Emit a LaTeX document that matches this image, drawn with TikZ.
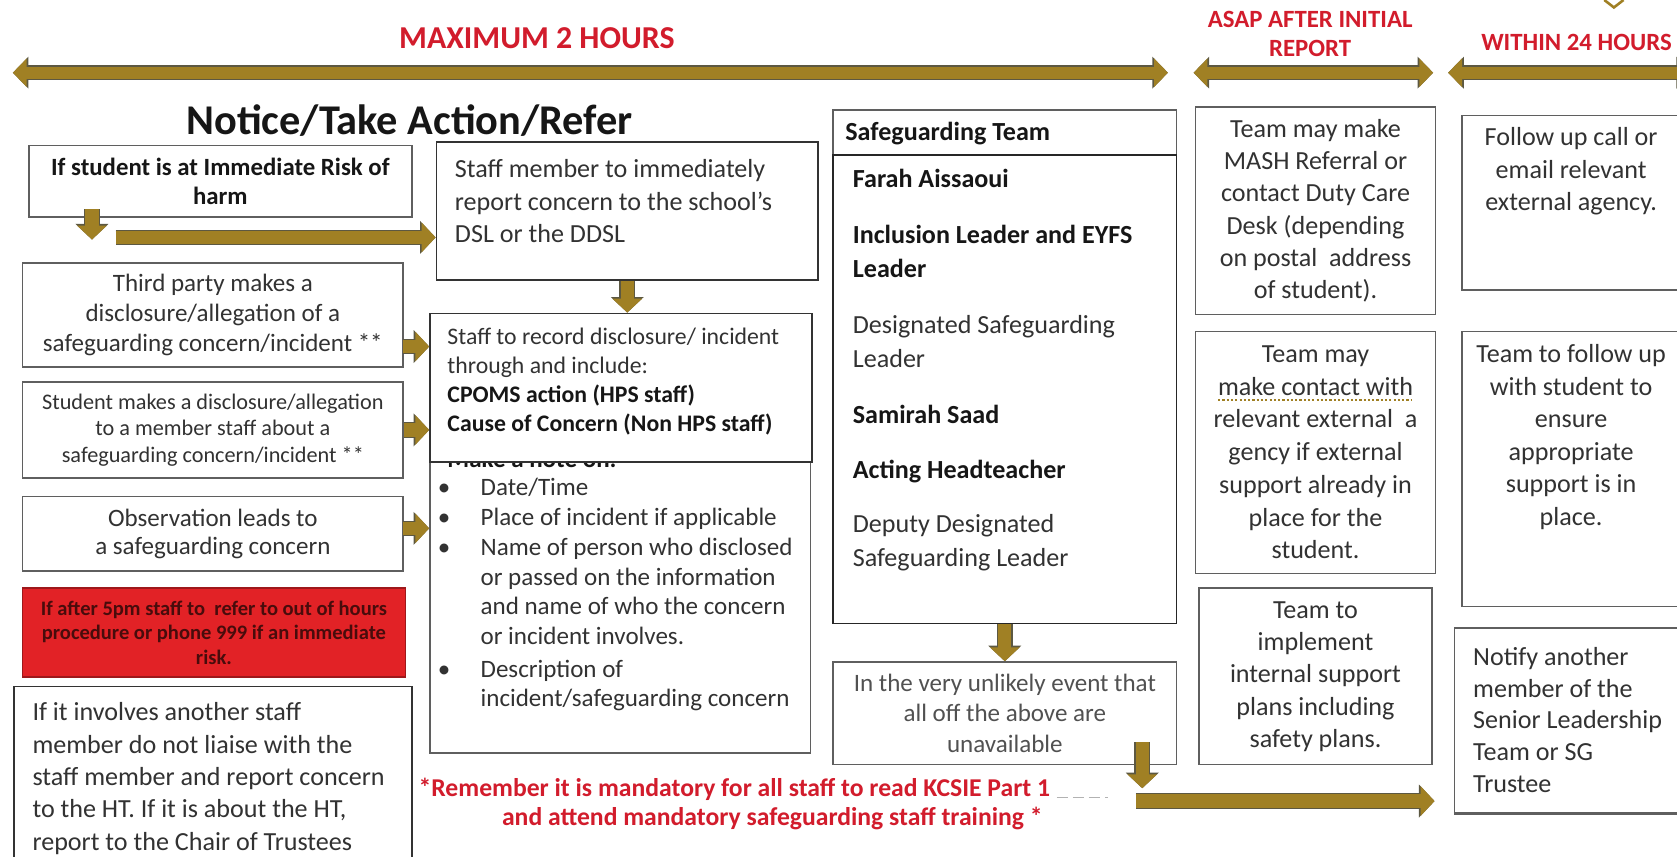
\documentclass[tikz,border=0pt]{standalone}
\usepackage{fontspec}
\setmainfont{Carlito}
\usetikzlibrary{arrows.meta,fit}

\definecolor{arrowgold}{RGB}{160,128,36}
\definecolor{arrowedge}{RGB}{92,88,66}
\definecolor{headred}{RGB}{210,28,44}
\definecolor{alertred}{RGB}{226,34,38}
\definecolor{alerttext}{RGB}{72,12,12}
\definecolor{boxline}{RGB}{95,95,95}
\definecolor{bodytext}{RGB}{50,50,50}
\definecolor{strongtext}{RGB}{22,22,22}

\tikzset{
  frame/.style={draw=boxline, line width=0.7pt, fill=white, inner sep=0pt},
  boxtext/.style={text=bodytext, inner sep=0pt, font=\fontsize{12.2}{15.1}\selectfont},
  heading/.style={text=headred, inner sep=0pt, align=center, font=\bfseries\fontsize{11.6}{13.5}\selectfont},
  fatarrow/.style={draw=arrowgold, line width=6.2pt, -{Triangle[length=6.5pt,width=13.5pt]},
    preaction={draw=arrowedge, line width=7.3pt, -{Triangle[length=7.3pt,width=15pt]}}},
  fatboth/.style={draw=arrowgold, line width=5.8pt, {Triangle[length=6.5pt,width=13pt]}-{Triangle[length=6.5pt,width=13pt]},
    preaction={draw=arrowedge, line width=6.9pt, {Triangle[length=7.3pt,width=14.5pt]}-{Triangle[length=7.3pt,width=14.5pt]}}},
}

\begin{document}
\begin{tikzpicture}[x=0.5pt, y=-0.5pt]
  \useasboundingbox (0,0) rectangle (1568,801);
  \clip (0,0) rectangle (1568,801);
  \fill[white] (0,0) rectangle (1568,801);

  % time bands
  \node[heading, font=\bfseries\fontsize{14.9}{16}\selectfont] (maxhead) at (502,36) {MAXIMUM 2 HOURS};
  \node[heading] (asaphead) at (1225,32) {ASAP AFTER INITIAL\\REPORT};
  \node[heading] (dayhead) at (1474,40) {WITHIN 24 HOURS};
  \coordinate (maxl) at (12,68);    \coordinate (maxr) at (1092,68);
  \coordinate (asapl) at (1116,68); \coordinate (asapr) at (1340,68);
  \coordinate (dayl) at (1354,68);  \coordinate (dayr) at (1582,68);
  \draw[fatboth] (maxl) -- (maxr);
  \draw[fatboth] (asapl) -- (asapr);
  \draw[fatboth] (dayl) -- (dayr);
  \draw[arrowgold, line width=1.2pt] (1500,0) -- (1509,7) -- (1518,0); % cut-off mark

  \node[inner sep=0pt, text=strongtext, font=\bfseries\fontsize{19.8}{22}\selectfont] (title) at (383,113) {Notice/Take Action/Refer};

  % left column
  \node[frame, fit={(27,136) (385,203)}] (riskbox) {};
  \node[inner sep=0pt, align=center, text=strongtext, font=\bfseries\fontsize{11.6}{13.5}\selectfont] (risktext) at (riskbox.center) {If student is at Immediate Risk of\\harm};
  \node[frame, fit={(21,246) (377,343)}] (thirdbox) {};
  \node[boxtext, align=center, font=\fontsize{11.7}{14}\selectfont] (thirdtext) at (thirdbox.center) {Third party makes a\\disclosure/allegation of a\\safeguarding concern/incident **};
  \node[frame, fit={(21,357) (377,447)}] (studentbox) {};
  \node[boxtext, align=center, font=\fontsize{10.4}{12.3}\selectfont] (studenttext) at (studentbox.center) {Student makes a disclosure/allegation\\to a member staff about a\\safeguarding concern/incident **};
  \node[frame, fit={(21,464) (377,534)}] (observebox) {};
  \node[boxtext, align=center, font=\fontsize{11.7}{13}\selectfont] (observetext) at (observebox.center) {Observation leads to\\a safeguarding concern};
  \node[frame, draw=alertred!70!black, fill=alertred, fit={(21,550) (379,633)}] (latebox) {};
  \node[inner sep=0pt, align=center, text=alerttext, font=\bfseries\fontsize{9.6}{11.5}\selectfont] (latetext) at (latebox.center) {If after 5pm staff to\ \ refer to out of hours\\procedure or phone 999 if an immediate\\risk.};
  \node[frame, draw=black!80, fit={(13,642) (385,830)}] (staffcasebox) {};
  \node[boxtext, anchor=west, align=left] (staffcasetext) at (30,728) {If it involves another staff\\member do not liaise with the\\staff member and report concern\\to the HT. If it is about the HT,\\report to the Chair of Trustees};

  % report and record
  \node[frame, draw=black!80, fit={(408,133) (765,262)}] (staffbox) {};
  \node[boxtext, anchor=west, align=left, font=\fontsize{12.2}{15.3}\selectfont] (stafftext) at (425,188) {Staff member to immediately\\report concern to the school’s\\DSL or the DDSL};
  \node[frame, fit={(402,293) (758,704)}] (notebox) {};
  \node[anchor=base west, inner sep=0pt, text=strongtext, font=\bfseries\fontsize{11.7}{14}\selectfont] (notehead) at (418,437) {Make a note on:};
  \node[frame, draw=black!80, fit={(402,293) (759,432)}] (recordbox) {};
  \node[boxtext, anchor=west, align=left, font=\fontsize{11.1}{13.5}\selectfont] (recordtext) at (418,357) {Staff to record disclosure/ incident\\through and include:\\\textcolor{strongtext}{\bfseries CPOMS action (HPS staff)}\\\textcolor{strongtext}{\bfseries Cause of Concern (Non HPS staff)}};
  \node[boxtext, anchor=north west, font=\fontsize{11.7}{14}\selectfont] (notelist) at (409,443) {%
    \begin{tabular}{@{}p{20pt}@{}l@{}}
      \textbullet & Date/Time\\
      \textbullet & Place of incident if applicable\\
      \textbullet & Name of person who disclosed\\
                  & or passed on the information\\
                  & and name of who the concern\\
                  & or incident involves.\\[1pt]
      \textbullet & Description of\\
                  & incident/safeguarding concern
    \end{tabular}};

  \coordinate (riskdown) at (86,224);
  \coordinate (riskgo) at (108,222);
  \coordinate (thirdgo) at (377,324);
  \coordinate (observego) at (377,494);
  \draw[fatarrow] (riskbox.south -| riskdown) ++(0,-8) -- (riskdown);
  \draw[fatarrow] (riskgo) -- (riskgo -| staffbox.west);
  \draw[fatarrow] (thirdgo) -- (thirdgo -| notebox.west);
  \draw[fatarrow] (studentbox.east) -- (studentbox.east -| notebox.west);
  \draw[fatarrow] (observego) -- (observego -| notebox.west);
  \draw[fatarrow] (staffbox.south) -- (staffbox.south |- recordbox.north);

  % safeguarding team
  \node[frame, fit={(779,103) (1100,145)}] (teamhead) {};
  \node[inner sep=0pt, anchor=west, text=strongtext, font=\bfseries\fontsize{12.2}{15}\selectfont] (teamheadtext) at (790,125) {Safeguarding Team};
  \node[frame, draw=black!85, line width=0.9pt, fit={(779,145) (1100,583)}] (teambox) {};
  \node[boxtext, anchor=north west, align=left, font=\fontsize{12.2}{16}\selectfont] (teamtext) at (797,158) {%
    \textcolor{strongtext}{\bfseries Farah Aissaoui}\\[10pt]
    \textcolor{strongtext}{\bfseries Inclusion Leader and EYFS}\\
    \textcolor{strongtext}{\bfseries Leader}\\[10pt]
    Designated Safeguarding\\
    Leader\\[10pt]
    \textcolor{strongtext}{\bfseries Samirah Saad}\\[10pt]
    \textcolor{strongtext}{\bfseries Acting Headteacher}\\[9pt]
    Deputy Designated\\
    Safeguarding Leader};
  \node[frame, fit={(779,619) (1100,715)}] (unavailbox) {};
  \node[boxtext, align=center, text=bodytext!85, font=\fontsize{11.7}{14.25}\selectfont] (unavailtext) at (unavailbox.center) {In the very unlikely event that\\all off the above are\\unavailable};
  \draw[fatarrow] (teambox.south) -- (teambox.south |- unavailbox.north);

  % reminder
  \node[anchor=west, inner sep=0pt, text=headred, font=\bfseries\fontsize{12}{14}\selectfont] (remember) at (391,738) {*Remember it is mandatory for all staff to read KCSIE Part 1};
  \node[anchor=west, inner sep=0pt, text=headred, font=\bfseries\fontsize{12}{14}\selectfont] (training) at (469,765) {and attend mandatory safeguarding staff training *};
  \draw[gray!60, line width=0.5pt, dash pattern=on 5pt off 2.5pt] (remember.east) ++(6,8) -- ++(48,0);

  % asap column
  \node[frame, fit={(1118,100) (1342,294)}] (mashbox) {};
  \node[boxtext, align=center] (mashtext) at (mashbox.center) {Team may make\\MASH Referral or\\contact Duty Care\\Desk (depending\\on postal\ \ address\\of student).};
  \node[frame, fit={(1118,310) (1342,536)}] (agencybox) {};
  \node[boxtext, align=center, font=\fontsize{12.2}{15.3}\selectfont] (agencytext) at (agencybox.center) {Team may\\make contact with\\relevant external\ \ a\\gency if external\\support already in\\place for the\\student.};
  \draw[arrowgold, line width=0.8pt, dash pattern=on 1pt off 1pt] (1139,374) -- (1320,374); % spelling mark
  \node[frame, fit={(1121,550) (1339,715)}] (planbox) {};
  \node[boxtext, align=center] (plantext) at (planbox.center) {Team to\\implement\\internal support\\plans including\\safety plans.};

  % 24 hour column
  \node[frame, fit={(1367,108) (1585,271)}] (followbox) {};
  \node[boxtext, anchor=north, align=center] (followtext) at (1469,119) {Follow up call or\\email relevant\\external agency.};
  \node[frame, fit={(1367,310) (1585,567)}] (checkbox) {};
  \node[boxtext, anchor=north, align=center, font=\fontsize{12.2}{15.2}\selectfont] (checktext) at (1469,322) {Team to follow up\\with student to\\ensure\\appropriate\\support is in\\place.};
  \node[frame, fit={(1360,587) (1585,760)}] (notifybox) {};
  \draw[boxline, line width=1.4pt] (notifybox.south west) -- (notifybox.south east);
  \node[boxtext, anchor=west, align=left, font=\fontsize{12.2}{14.8}\selectfont] (notifytext) at (1377,673) {Notify another\\member of the\\Senior Leadership\\Team or SG\\Trustee};

  % escalation
  \coordinate (unavtop) at (1068,694);
  \coordinate (unavdown) at (1068,737);
  \coordinate (unavgo) at (1062,749);
  \draw[fatarrow, shorten >=9pt] (unavgo) -- (unavgo -| notifybox.west);
  \draw[fatarrow] (unavtop) -- (unavdown);
\end{tikzpicture}
\end{document}
